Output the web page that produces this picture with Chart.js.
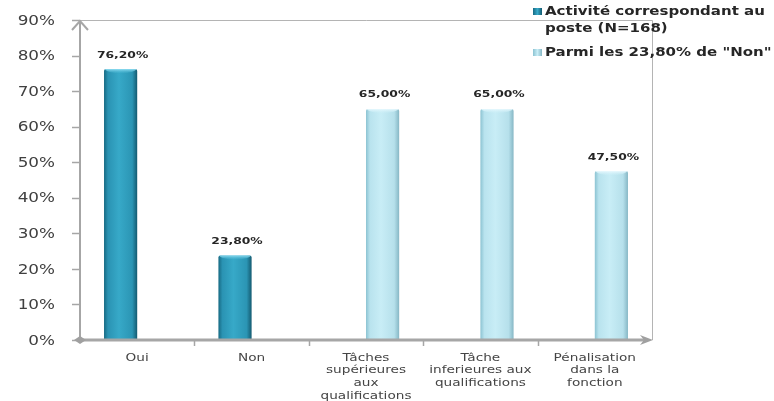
<!DOCTYPE html>
<html>
<head>
<meta charset="utf-8">
<script src="https://cdn.jsdelivr.net/npm/chart.js@4.4.1/dist/chart.umd.min.js"></script>
<style>
  html, body { margin: 0; padding: 0; background: #ffffff; }
  #wrap { width: 774px; height: 401px; position: relative; }
</style>
</head>
<body>
<div id="wrap"><canvas id="c" width="774" height="401"></canvas></div>
<script>
// Categories and series (percent values)
const categories = [
  ['Oui'],
  ['Non'],
  ['Tâches', 'supérieures', 'aux', 'qualifications'],
  ['Tâche', 'inferieures aux', 'qualifications'],
  ['Pénalisation', 'dans la', 'fonction']
];
const seriesNames = ['Activité correspondant au poste (N=168)', 'Parmi les 23,80% de "Non"'];
const legendLines = [['Activité correspondant au', 'poste (N=168)'], ['Parmi les 23,80% de "Non"']];
const activite = [76.2, 23.8, null, null, null];
const parmiNon = [null, null, 65.0, 65.0, 47.5];
const yMax = 90;
const yStep = 10;

const CAT_PCT = 0.58;
const FONT = '"DejaVu Sans", Verdana, sans-serif';
const SX = 1.3; // horizontal stretch applied to text

function fmtPct(v) { return v.toFixed(2).replace('.', ',') + '%'; }

function drawText(ctx, text, x, y, align, font, color, sx) {
  ctx.save();
  ctx.font = font;
  ctx.fillStyle = color;
  ctx.textBaseline = 'middle';
  ctx.textAlign = 'left';
  const w = ctx.measureText(text).width * sx;
  const left = align === 'right' ? x - w : align === 'center' ? x - w / 2 : x;
  ctx.translate(left, y);
  ctx.scale(sx, 1);
  ctx.fillText(text, 0, 0);
  ctx.restore();
}

// Horizontal extent of a bar, derived from the x scale
function barSpan(chart, dsIndex, i) {
  const xs = chart.scales.x;
  const c = xs.getPixelForValue(i);
  const cw = xs.width / categories.length;
  const bw = cw * CAT_PCT / 2;
  return dsIndex === 0 ? [c - bw, c] : [c, c + bw];
}

const palettes = [
  ['#176a83', '#2a93b3', '#37a9c8', '#2b95b4', '#145a70'],
  ['#8cc3d2', '#b9e3ee', '#c8edf6', '#b6e0eb', '#86b7c5']
];

function barFill(dsIndex) {
  return function (ctx) {
    const chart = ctx.chart;
    if (!chart.chartArea || !chart.scales.x) return palettes[dsIndex][2];
    const [l, r] = barSpan(chart, dsIndex, ctx.dataIndex);
    const g = chart.ctx.createLinearGradient(l, 0, r, 0);
    const p = palettes[dsIndex];
    g.addColorStop(0, p[0]);
    g.addColorStop(0.12, p[1]);
    g.addColorStop(0.45, p[2]);
    g.addColorStop(0.85, p[3]);
    g.addColorStop(1, p[4]);
    return g;
  };
}

const decorPlugin = {
  id: 'decor',
  afterDatasetsDraw(chart) {
    const ctx = chart.ctx;
    const ys = chart.scales.y;
    // light rim at the top of each bar, kept inside the bar
    [activite, parmiNon].forEach((arr, d) => {
      arr.forEach((v, i) => {
        if (v === null) return;
        const [l, r] = barSpan(chart, d, i);
        const top = ys.getPixelForValue(v);
        ctx.save();
        ctx.beginPath();
        ctx.rect(l, top, r - l, 8);
        ctx.clip();
        const g = ctx.createLinearGradient(0, top, 0, top + 5);
        g.addColorStop(0, d === 0 ? 'rgba(150,225,245,0.95)' : 'rgba(235,250,255,0.95)');
        g.addColorStop(1, d === 0 ? 'rgba(60,175,205,0)' : 'rgba(200,237,246,0)');
        ctx.fillStyle = g;
        ctx.beginPath();
        ctx.ellipse((l + r) / 2, top, (r - l) / 2 - 1, 4, 0, 0, Math.PI * 2);
        ctx.fill();
        ctx.restore();
      });
    });
  },
  afterDraw(chart) {
    const ctx = chart.ctx;
    const a = chart.chartArea;
    const xs = chart.scales.x;
    const ys = chart.scales.y;
    ctx.save();
    // frame top and right
    ctx.strokeStyle = '#b4b4b4';
    ctx.lineWidth = 1;
    ctx.beginPath();
    ctx.moveTo(a.left, a.top + 0.5); ctx.lineTo(a.right + 0.5, a.top + 0.5);
    ctx.lineTo(a.right + 0.5, a.bottom);
    ctx.stroke();

    // y axis with arrow
    ctx.strokeStyle = '#a6a6a6';
    ctx.lineWidth = 2;
    ctx.beginPath();
    ctx.moveTo(a.left, a.bottom); ctx.lineTo(a.left, a.top);
    ctx.stroke();
    ctx.beginPath();
    ctx.moveTo(a.left - 8, a.top + 10); ctx.lineTo(a.left, a.top + 1); ctx.lineTo(a.left + 8, a.top + 10);
    ctx.stroke();
    // y tick marks
    ctx.lineWidth = 1.5;
    ys.ticks.forEach(t => {
      const y = Math.round(ys.getPixelForValue(t.value)) + 0.5;
      ctx.beginPath(); ctx.moveTo(a.left - 8, y); ctx.lineTo(a.left, y); ctx.stroke();
    });

    // x axis with arrow
    ctx.strokeStyle = '#a6a6a6';
    ctx.lineWidth = 3;
    ctx.beginPath();
    ctx.moveTo(a.left, a.bottom); ctx.lineTo(a.right - 8, a.bottom);
    ctx.stroke();
    ctx.fillStyle = '#a0a0a0';
    ctx.beginPath();
    ctx.moveTo(a.right + 1, a.bottom);
    ctx.lineTo(a.right - 12, a.bottom - 5);
    ctx.lineTo(a.right - 8, a.bottom);
    ctx.lineTo(a.right - 12, a.bottom + 5);
    ctx.closePath();
    ctx.fill();
    // origin diamond
    ctx.beginPath();
    ctx.moveTo(a.left - 6, a.bottom); ctx.lineTo(a.left, a.bottom - 4);
    ctx.lineTo(a.left + 6, a.bottom); ctx.lineTo(a.left, a.bottom + 4);
    ctx.closePath();
    ctx.fill();
    // x category boundary ticks
    ctx.lineWidth = 1.5;
    const cw = xs.width / categories.length;
    for (let i = 1; i < categories.length; i++) {
      const x = Math.round(a.left + cw * i) + 0.5;
      ctx.beginPath(); ctx.moveTo(x, a.bottom); ctx.lineTo(x, a.bottom + 6); ctx.stroke();
    }
    ctx.restore();

    // y tick labels
    ys.ticks.forEach(t => {
      drawText(ctx, t.value + '%', a.left - 25, ys.getPixelForValue(t.value) + 1, 'right',
        '14px ' + FONT, '#404040', 1.2);
    });

    // category labels
    categories.forEach((lines, i) => {
      const x = xs.getPixelForValue(i);
      lines.forEach((ln, k) => {
        drawText(ctx, ln, x, a.bottom + 18 + k * 12.6, 'center', '10.5px ' + FONT, '#454545', SX);
      });
    });

    // value labels
    [activite, parmiNon].forEach((arr, d) => {
      arr.forEach((v, i) => {
        if (v === null) return;
        const [l, r] = barSpan(chart, d, i);
        drawText(ctx, fmtPct(v), (l + r) / 2 + 2, ys.getPixelForValue(v) - 14, 'center',
          'bold 9.5px ' + FONT, '#262626', SX);
      });
    });

    // legend
    const lx = 533;
    const rows = [12, 53];
    legendLines.forEach((lines, d) => {
      const y = rows[d];
      const g = ctx.createLinearGradient(lx, 0, lx + 9, 0);
      g.addColorStop(0, palettes[d][0]);
      g.addColorStop(0.5, palettes[d][2]);
      g.addColorStop(1, palettes[d][4]);
      ctx.fillStyle = g;
      ctx.fillRect(lx, y - 4, 9, 7);
      lines.forEach((ln, k) => {
        drawText(ctx, ln, lx + 12, y + k * 16.5, 'left', 'bold 12px ' + FONT, '#262626', 1.25);
      });
    });
  }
};

new Chart(document.getElementById('c'), {
  type: 'bar',
  data: {
    labels: categories,
    datasets: [
      { label: seriesNames[0], data: activite, backgroundColor: barFill(0),
        borderRadius: { topLeft: 2, topRight: 2 }, borderSkipped: 'bottom' },
      { label: seriesNames[1], data: parmiNon, backgroundColor: barFill(1),
        borderRadius: { topLeft: 2, topRight: 2 }, borderSkipped: 'bottom' }
    ]
  },
  options: {
    responsive: false,
    animation: false,
    devicePixelRatio: 1,
    layout: { padding: { left: 80, right: 122, top: 20, bottom: 61 } },
    datasets: { bar: { categoryPercentage: CAT_PCT, barPercentage: 1.0 } },
    scales: {
      x: { display: false },
      y: { display: false, min: 0, max: yMax, ticks: { stepSize: yStep } }
    },
    plugins: { legend: { display: false }, tooltip: { enabled: false } }
  },
  plugins: [decorPlugin]
});
</script>
</body>
</html>
